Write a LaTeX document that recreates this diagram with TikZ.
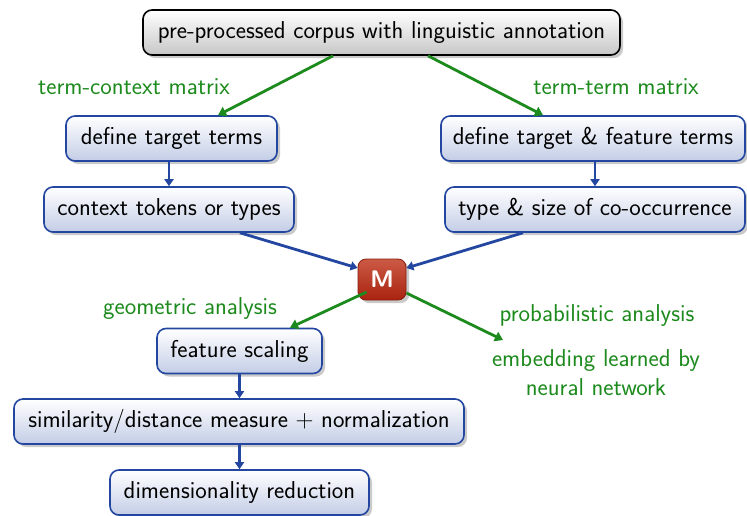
\documentclass[tikz,border=0pt]{standalone}
\usetikzlibrary{shadows,arrows.meta}
\definecolor{bblue}{HTML}{2347A0}
\definecolor{bgreen}{HTML}{1C8A1C}
\definecolor{boxbot}{HTML}{C3CDE6}
\definecolor{mtop}{HTML}{CC5A45}
\definecolor{mbot}{HTML}{A8230F}
\begin{document}
\begin{tikzpicture}[x=1pt,y=-1pt,
  every node/.style={font=\sffamily\fontsize{24.4}{29}\selectfont},
  shad/.style={drop shadow={shadow xshift=3pt, shadow yshift=-3pt, opacity=0.35, fill=black!60}},
  bluebox/.style={draw=bblue, line width=1.6pt, rounded corners=9pt, top color=white, bottom color=boxbot, minimum height=45pt, inner sep=0pt, shad},
  graybox/.style={draw=black, line width=1.6pt, rounded corners=9pt, top color=white, bottom color=black!22, minimum height=45pt, inner sep=0pt, shad},
  mbox/.style={draw=mbot!80!black, line width=0.8pt, rounded corners=8pt, top color=mtop, bottom color=mbot, minimum width=48pt, minimum height=41pt, inner sep=0pt, text=white, font=\sffamily\bfseries\fontsize{24}{29}\selectfont, shad},
  lab/.style={text=bgreen, inner sep=0pt, align=center},
  barrow/.style={draw=bblue, line width=2.8pt, -{Triangle[length=7pt,width=9pt]}},
  garrow/.style={draw=bgreen, line width=2.8pt, -{Triangle[length=8pt,width=10pt]}}
]
\useasboundingbox (0,0) rectangle (747,515);

\node[graybox, minimum width=477pt] (top) at (381.5,32.5) {pre-processed corpus with linguistic annotation};

\node[bluebox, minimum width=211pt] (dtt) at (171.5,138.5) {define target terms};
\node[bluebox, minimum width=250pt] (ctt) at (169,209.5) {context tokens or types};
\node[bluebox, minimum width=304pt] (dtf) at (593,138.5) {define target \& feature terms};
\node[bluebox, minimum width=300pt] (tsc) at (595,209.5) {type \& size of co-occurrence};

\node[mbox] (M) at (382,279.5) {M};

\node[bluebox, minimum width=165pt] (fs) at (239.5,351) {feature scaling};
\node[bluebox, minimum width=450pt] (sim) at (239,421.5) {similarity/distance measure $+$ normalization};
\node[bluebox, minimum width=259pt] (dim) at (239.5,492.5) {dimensionality reduction};

\node[lab] (l1) at (134,87) {term-context matrix};
\node[lab] (l2) at (616,87) {term-term matrix};
\node[lab] (l3) at (190,309) {geometric analysis};
\node[lab] (l4) at (597,316) {probabilistic analysis};
\node[lab] (l5) at (596,373) {embedding learned by\\neural network};

\coordinate (pend) at (503,340);

\draw[garrow] (top.south -| 333,0) -- (dtt.north -| 218,0);
\draw[garrow] (top.south -| 428,0) -- (dtf.north -| 543,0);

\draw[barrow] (dtt.south -| 169,0) -- (ctt.north -| 169,0);
\draw[barrow] (dtf.south -| 595,0) -- (tsc.north -| 595,0);
\draw[barrow] (ctt.south -| 240,0) -- (M.west |- 0,268);
\draw[barrow] (tsc.south -| 523,0) -- (M.east |- 0,268);

\draw[garrow] (M.south west |- 0,292) ++(9,0) -- (fs.north -| 290,0);
\draw[garrow] (M.east |- 0,293) -- (pend);

\draw[barrow] (fs.south) -- (sim.north -| fs.south);
\draw[barrow] (sim.south -| dim.north) -- (dim.north);
\end{tikzpicture}
\end{document}
